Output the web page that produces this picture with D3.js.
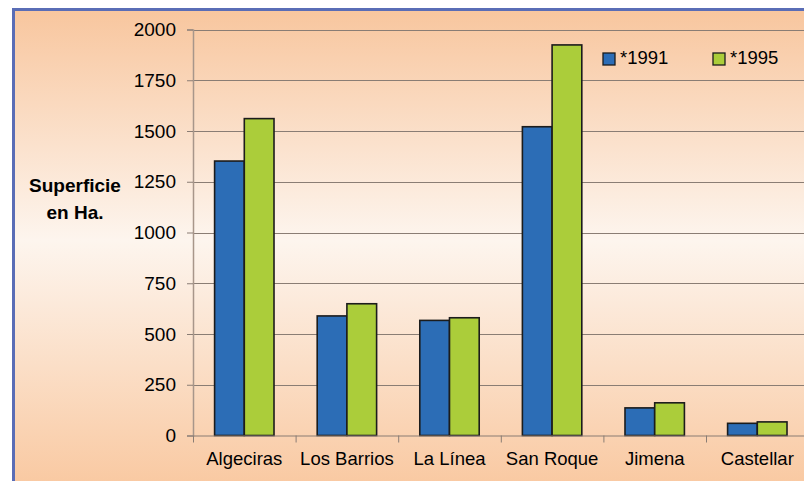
<!DOCTYPE html>
<html>
<head>
<meta charset="utf-8">
<script src="https://cdn.jsdelivr.net/npm/d3@7"></script>
<style>
  html, body { margin: 0; padding: 0; background: #ffffff; }
  svg { display: block; }
  text { font-family: Arial, "Liberation Sans", sans-serif; fill: #000; }
</style>
</head>
<body>
<svg id="chart" width="804" height="481"></svg>
<script>
// Superficie por municipio (Ha.)
const municipios = ["Algeciras", "Los Barrios", "La Línea", "San Roque", "Jimena", "Castellar"];
const series = ["*1991", "*1995"];
const valores1991 = [1352, 589, 567, 1521, 136, 60];
const valores1995 = [1561, 649, 580, 1924, 161, 67];
const yTicks = [0, 250, 500, 750, 1000, 1250, 1500, 1750, 2000];
const colores = ["#2c6db6", "#abcd3a"];

const svg = d3.select("#chart");
const W = 804, H = 481;

// Background panel with soft vertical gradient
const defs = svg.append("defs");
const grad = defs.append("linearGradient")
  .attr("id", "fondo").attr("x1", 0).attr("y1", 0).attr("x2", 0).attr("y2", 1);
grad.append("stop").attr("offset", "0%").attr("stop-color", "#f8c69e");
grad.append("stop").attr("offset", "48%").attr("stop-color", "#fdf5ee");
grad.append("stop").attr("offset", "100%").attr("stop-color", "#f9c8a0");

svg.append("rect")
  .attr("x", 13.5).attr("y", 9.5).attr("width", W).attr("height", H)
  .attr("fill", "url(#fondo)")
  .attr("stroke", "#5a6db6").attr("stroke-width", 3);

const plot = { left: 193, top: 29.5, bottom: 435.5, right: 808.6 };

const x = d3.scaleBand().domain(municipios).range([plot.left, plot.right]).padding(0);
const xs = d3.scaleBand().domain(series).range([0, x.bandwidth()]).paddingInner(0).paddingOuter(0.727);
const y = d3.scaleLinear().domain([0, 2000]).range([plot.bottom, plot.top]);

// Gridlines
svg.append("g")
  .selectAll("line")
  .data(yTicks.filter(d => d > 0))
  .join("line")
  .attr("x1", plot.left).attr("x2", W)
  .attr("y1", d => Math.round(y(d)) + 0.5).attr("y2", d => Math.round(y(d)) + 0.5)
  .attr("stroke", "#8a7d74").attr("stroke-width", 1);

// Y axis
const yAxis = svg.append("g")
  .attr("transform", `translate(${plot.left},0)`)
  .call(d3.axisLeft(y).tickValues(yTicks).tickSize(6).tickPadding(11).tickFormat(d3.format("d")));
yAxis.select(".domain").attr("stroke", "#a8968a").attr("stroke-width", 1.5);
yAxis.selectAll(".tick line").attr("stroke", "#8a7d74");
yAxis.selectAll(".tick text")
  .attr("font-size", "19px").attr("font-family", "Arial, 'Liberation Sans', sans-serif")
  .attr("fill", "#000");

// Bars
const datos = municipios.map((m, i) => ({ m, v: [valores1991[i], valores1995[i]] }));
const grupos = svg.append("g").selectAll("g")
  .data(datos).join("g")
  .attr("transform", d => `translate(${x(d.m)},0)`);
grupos.selectAll("rect")
  .data(d => d.v.map((v, j) => ({ s: series[j], v, j })))
  .join("rect")
  .attr("x", d => xs(d.s))
  .attr("width", xs.bandwidth())
  .attr("y", d => y(d.v))
  .attr("height", d => y(0) - y(d.v))
  .attr("fill", d => colores[d.j])
  .attr("stroke", "#1c1c1c").attr("stroke-width", 1.6);

// X axis
const xAxis = svg.append("g")
  .attr("transform", `translate(0,${plot.bottom})`)
  .call(d3.axisBottom(x).tickSize(0).tickPadding(22));
xAxis.select(".domain").attr("stroke", "#8a7d74").attr("stroke-width", 1.2);
xAxis.selectAll(".tick text")
  .attr("font-size", "18.5px").attr("font-family", "Arial, 'Liberation Sans', sans-serif")
  .attr("fill", "#000").attr("dy", "0.4em");
// Category separator ticks
svg.append("g").selectAll("line")
  .data(municipios)
  .join("line")
  .attr("x1", d => x(d) + 0.5).attr("x2", d => x(d) + 0.5)
  .attr("y1", plot.bottom).attr("y2", plot.bottom + 7)
  .attr("stroke", "#8a7d74").attr("stroke-width", 1);

// Y axis title
const titulo = svg.append("text")
  .attr("text-anchor", "middle")
  .attr("font-size", "19px").attr("font-weight", "bold");
titulo.append("tspan").attr("x", 75).attr("y", 192).text("Superficie");
titulo.append("tspan").attr("x", 75).attr("y", 219).text("en Ha.");

// Legend
const legendX = [603, 713];
const leyenda = svg.append("g").selectAll("g")
  .data(series).join("g")
  .attr("transform", (d, i) => `translate(${legendX[i]},53)`);
leyenda.append("rect")
  .attr("width", 12).attr("height", 12)
  .attr("fill", (d, i) => colores[i])
  .attr("stroke", "#1c1c1c").attr("stroke-width", 1.3);
leyenda.append("text")
  .attr("x", 17).attr("y", 11)
  .attr("font-size", "18.5px")
  .text(d => d);
</script>
</body>
</html>
